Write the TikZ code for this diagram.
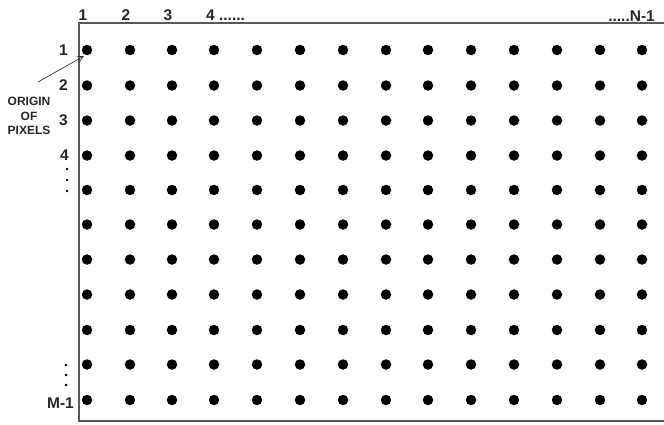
\documentclass[tikz,border=0pt]{standalone}
\usepackage{fontspec}
\setmainfont{Liberation Sans}
\usetikzlibrary{arrows.meta}
\begin{document}
\begin{tikzpicture}[x=1pt,y=-1pt,
  dot/.style={circle,fill=black,inner sep=0pt,minimum size=10.5pt},
  lbl/.style={font=\fontsize{15.5}{17}\selectfont\bfseries,inner sep=0pt,text=black!85},
  small/.style={font=\fontsize{12}{14.5}\selectfont\bfseries,inner sep=0pt,align=center,text=black!85},
  frame/.style={draw=black!65,line width=1.3pt}]
\useasboundingbox (0,0) rectangle (664,424);
% frame
\draw[frame] (664,23) -- (79,23) -- (79,421) -- (664,421);
% dots
\foreach \i [count=\r] in {50,85.5,120.5,155.5,190,224.5,259.5,294.5,330,364.5,400}{
  \foreach \j [count=\c] in {87,130,172,214,257,300,343,386,428,471,514,557,600,642}{
    \node[dot] (d-\r-\c) at (\j,\i) {};
  }
}
% column labels
\node[lbl] (c1) at (83,15) {1};
\node[lbl] (c2) at (126,15) {2};
\node[lbl] (c3) at (168,15) {3};
\node[lbl,anchor=west] (c4) at (206,15) {4 ......};
\node[lbl,anchor=east] (cN) at (655,16) {.....N-1};
% row labels
\node[lbl,anchor=east] (r1) at (68,50) {1};
\node[lbl,anchor=east] (r2) at (68,85.5) {2};
\node[lbl,anchor=east] (r3) at (68,120.5) {3};
\node[lbl,anchor=east] (r4) at (69,155.5) {4};
\node[lbl,anchor=east] (rM) at (74,403) {M-1};
% vertical ellipsis dots
\foreach \y in {169,180,191}{\fill (67,\y) circle (1.4pt);}
\foreach \y in {365,375,385}{\fill (66,\y) circle (1.4pt);}
% origin label
\node[small] (orig) at (29,116) {ORIGIN\\OF\\PIXELS};
\coordinate (astart) at (38,82);
\coordinate (aend) at (84,56);
\draw[-{Straight Barb[length=6pt,width=6pt,line width=0.7pt]},line width=0.7pt,black!80] (astart) -- (aend);
\end{tikzpicture}
\end{document}
